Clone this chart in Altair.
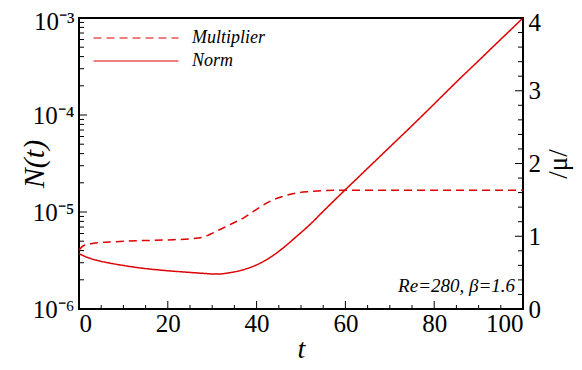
import altair as alt
import pandas as pd

# Norm N(t) (left, log axis)
t_norm = [0, 2, 4, 7, 10, 13, 16, 20, 24, 28, 31, 34, 37, 40, 43, 46, 49, 52, 55,
          60, 65, 70, 75, 80, 85, 90, 95, 100]
n_norm = [3.72e-6, 3.39e-6, 3.18e-6, 2.97e-6, 2.81e-6, 2.68e-6, 2.58e-6, 2.48e-6,
          2.40e-6, 2.33e-6, 2.29e-6, 2.37e-6, 2.54e-6, 2.85e-6, 3.39e-6, 4.27e-6,
          5.60e-6, 7.41e-6, 1.016e-5, 1.70e-5, 2.82e-5, 4.68e-5, 7.76e-5, 1.30e-4,
          2.19e-4, 3.63e-4, 6.03e-4, 1.0e-3]

# Multiplier |mu| (right, linear axis)
t_mult = [0, 1, 3, 8, 14, 20, 26, 28, 30, 32, 34, 37, 40, 43, 46, 49, 52, 55, 60, 70, 80, 90, 100]
mu_mult = [0.81, 0.87, 0.90, 0.925, 0.94, 0.95, 0.97, 0.99, 1.04, 1.10, 1.16, 1.25, 1.37,
           1.48, 1.55, 1.595, 1.615, 1.628, 1.632, 1.632, 1.632, 1.632, 1.632]

series_names = ["Multiplier", "Norm"]

x_major = [0, 20, 40, 60, 80, 100]
x_minor = [5, 10, 15, 25, 30, 35, 45, 50, 55, 65, 70, 75, 85, 90, 95]
y_major = [1e-6, 1e-5, 1e-4, 1e-3]
y_minor = [2e-6, 3e-6, 4e-6, 5e-6, 6e-6, 7e-6, 8e-6, 9e-6,
           2e-5, 3e-5, 4e-5, 5e-5, 6e-5, 7e-5, 8e-5, 9e-5,
           2e-4, 3e-4, 4e-4, 5e-4, 6e-4, 7e-4, 8e-4, 9e-4]
mu_major = [0, 1, 2, 3, 4]
mu_minor = [0.2, 0.4, 0.6, 0.8, 1.2, 1.4, 1.6, 1.8, 2.2, 2.4, 2.6, 2.8, 3.2, 3.4, 3.6, 3.8]

annot_text = "Re=280, β=1.6"
annot_t = 98.2
annot_mu = 0.31

W, H = 444, 291
RED = "#dd0000"
FONT = "'Liberation Serif', 'Times New Roman', serif"

norm_df = pd.DataFrame({"t": t_norm, "N": n_norm, "series": "Norm"})
mult_df = pd.DataFrame({"t": t_mult, "mu": mu_mult, "series": "Multiplier"})

xscale = alt.Scale(domain=[0, 100], nice=False, zero=False)
yscale = alt.Scale(type="log", domain=[1e-6, 1e-3], nice=False)
muscale = alt.Scale(domain=[0, 4], nice=False, zero=True)

legend = alt.Legend(
    title=None, orient="none", legendX=48, legendY=11,
    symbolType="M-8.5,0H8.5", symbolSize=100, symbolStrokeWidth=1.2,
    labelFont=FONT, labelFontSize=18, labelFontStyle="italic", labelColor="black",
    labelOffset=47, rowPadding=5,
)
dash = alt.StrokeDash("series:N",
                      scale=alt.Scale(domain=series_names, range=[[8, 5], [1, 0]]),
                      legend=legend)
color = alt.Color("series:N", scale=alt.Scale(domain=series_names, range=[RED, RED]),
                  legend=legend)

x_axis = alt.Axis(values=x_major, tickSize=0, domain=False, grid=False,
                  labelFont=FONT, labelFontSize=25, labelPadding=2, labelColor="black",
                  title="t", titleFont=FONT, titleFontSize=28, titleFontStyle="italic",
                  titleFontWeight="normal", titleColor="black",
                  titleX=W / 2, titleY=48, titleBaseline="alphabetic")

label_expr = ("datum.value >= 0.00099 ? '10⁻³' : datum.value >= 0.000099 ? '10⁻⁴' : "
              "datum.value >= 0.0000099 ? '10⁻⁵' : '10⁻⁶'")
y_axis = alt.Axis(values=y_major, tickSize=0, domain=False, grid=False,
                  labelExpr=label_expr, labelFont=FONT, labelFontSize=25,
                  labelPadding=5, labelColor="black",
                  labelOffset={"condition": {"test": "datum.value >= 0.00099", "value": 3},
                               "value": 0},
                  title="N(t)", titleFont=FONT, titleFontSize=30, titleFontStyle="italic",
                  titleFontWeight="normal", titleColor="black", titleAngle=270,
                  titleX=-45, titleY=H / 2, titleBaseline="middle", titleAlign="center")

mu_axis = alt.Axis(values=mu_major, tickSize=0, domain=False, grid=False, orient="right",
                   labelFont=FONT, labelFontSize=25, labelPadding=5, labelColor="black",
                   labelOffset={"condition": {"test": "datum.value >= 3.9", "value": 4},
                                "value": 0},
                   title="/μ/", titleFont=FONT, titleFontSize=27, titleFontWeight="normal",
                   titleColor="black", titleAngle=270,
                   titleX=35, titleY=H / 2, titleBaseline="middle", titleAlign="center")

norm_line = alt.Chart(norm_df).mark_line(strokeWidth=1.5, interpolate="monotone").encode(
    x=alt.X("t:Q", scale=xscale, axis=x_axis),
    y=alt.Y("N:Q", scale=yscale, axis=y_axis),
    strokeDash=dash, color=color,
)

xt_major = alt.Chart(pd.DataFrame({"t": x_major})).mark_rule(color="black", strokeWidth=1).encode(
    x=alt.X("t:Q", scale=xscale, axis=x_axis), y=alt.value(H), y2=alt.value(H - 8))
xt_minor = alt.Chart(pd.DataFrame({"t": x_minor})).mark_rule(color="black", strokeWidth=1).encode(
    x=alt.X("t:Q", scale=xscale, axis=x_axis), y=alt.value(H), y2=alt.value(H - 4))
yt_major = alt.Chart(pd.DataFrame({"N": y_major})).mark_rule(color="black", strokeWidth=1).encode(
    y=alt.Y("N:Q", scale=yscale, axis=y_axis), x=alt.value(0), x2=alt.value(8))
yt_minor = alt.Chart(pd.DataFrame({"N": y_minor})).mark_rule(color="black", strokeWidth=1).encode(
    y=alt.Y("N:Q", scale=yscale, axis=y_axis), x=alt.value(0), x2=alt.value(5))

left = alt.layer(norm_line, xt_major, xt_minor, yt_major, yt_minor)

mult_line = alt.Chart(mult_df).mark_line(strokeWidth=1.5, interpolate="monotone").encode(
    x=alt.X("t:Q", scale=xscale, axis=x_axis),
    y=alt.Y("mu:Q", scale=muscale, axis=mu_axis),
    strokeDash=dash, color=color,
)
mt_major = alt.Chart(pd.DataFrame({"mu": mu_major})).mark_rule(color="black", strokeWidth=1).encode(
    y=alt.Y("mu:Q", scale=muscale, axis=mu_axis), x=alt.value(W), x2=alt.value(W - 8))
mt_minor = alt.Chart(pd.DataFrame({"mu": mu_minor})).mark_rule(color="black", strokeWidth=1).encode(
    y=alt.Y("mu:Q", scale=muscale, axis=mu_axis), x=alt.value(W), x2=alt.value(W - 5))
annot = alt.Chart(pd.DataFrame({"t": [annot_t], "mu": [annot_mu], "txt": [annot_text]})).mark_text(
    font=FONT, fontSize=19, fontStyle="italic", align="right", baseline="middle", color="black"
).encode(
    x=alt.X("t:Q", scale=xscale, axis=x_axis),
    y=alt.Y("mu:Q", scale=muscale, axis=mu_axis),
    text="txt:N",
)

right = alt.layer(mult_line, mt_major, mt_minor, annot)

chart = alt.layer(left, right).resolve_scale(y="independent").properties(
    width=W, height=H,
    autosize=alt.AutoSizeParams(type="none"),
    padding={"left": 71, "top": 10, "right": 51, "bottom": 53},
    background="white",
).configure_view(stroke="black", strokeWidth=2)

chart.save("out.html", embed_options={"renderer": "svg", "actions": False})
